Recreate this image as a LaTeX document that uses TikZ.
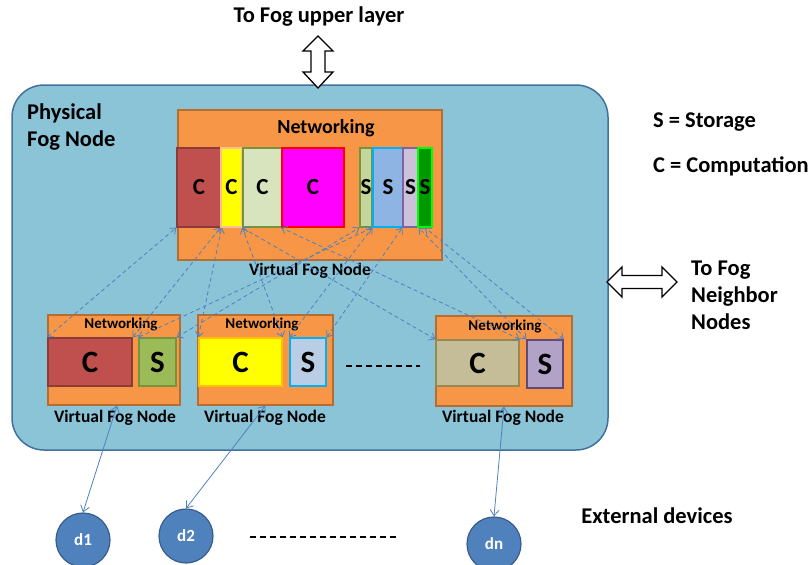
\documentclass[tikz,border=0pt]{standalone}
\usepackage{fontspec}
\setmainfont{Carlito}
\usetikzlibrary{arrows.meta,calc}
\definecolor{panel}{HTML}{8BC3D7}
\definecolor{panelline}{HTML}{41719C}
\definecolor{orng}{HTML}{F79646}
\definecolor{orngline}{HTML}{B66D31}
\definecolor{lnk}{HTML}{4F81BD}
\definecolor{dev}{HTML}{4F81BD}
\definecolor{devline}{HTML}{385D8A}
\definecolor{redfill}{HTML}{C0504D}
\definecolor{redline}{HTML}{8C3B39}
\definecolor{peach}{HTML}{FAC090}
\definecolor{palegreen}{HTML}{D7E4BD}
\definecolor{olive}{HTML}{77933C}
\definecolor{lightolive}{HTML}{C3D69B}
\definecolor{midblue}{HTML}{8EB4E3}
\definecolor{cyanline}{HTML}{00B0F0}
\definecolor{lilac}{HTML}{CCC1DA}
\definecolor{purpleline}{HTML}{8064A2}
\definecolor{darkgreen}{HTML}{009A00}
\definecolor{brightgreen}{HTML}{00FF00}
\definecolor{greenfill}{HTML}{9BBB59}
\definecolor{gold}{HTML}{FFC000}
\definecolor{paleblue}{HTML}{B9CDE5}
\definecolor{khaki}{HTML}{C4BD97}
\definecolor{khakiline}{HTML}{948A54}
\definecolor{violet2}{HTML}{B3A2C7}
\definecolor{violetline}{HTML}{5F497A}
\definecolor{pinkfill}{HTML}{FF00FF}
\definecolor{pureyellow}{HTML}{FFFF00}
\definecolor{purered}{HTML}{FF0000}
\tikzset{
  vfn/.style={draw=orngline, fill=orng, line width=1.2pt, inner sep=0pt},
  modbox/.style={line width=1.4pt, inner sep=0pt, font=\bfseries\fontsize{23}{23}\selectfont},
  lowmod/.style={line width=1.4pt, inner sep=0pt, font=\bfseries\fontsize{31}{31}\selectfont},
  lbl/.style={font=\bfseries\fontsize{22.5}{27}\selectfont, inner sep=0pt},
  vlbl/.style={font=\bfseries\fontsize{17.5}{18}\selectfont, inner sep=0pt},
  netlbl/.style={font=\bfseries\fontsize{15}{15}\selectfont, inner sep=0pt},
  dashlink/.style={draw=lnk, line width=0.8pt, dash pattern=on 4pt off 3pt, {Straight Barb[length=5pt,width=8pt]}-{Straight Barb[length=5pt,width=8pt]}},
  solidlink/.style={draw=lnk, line width=0.8pt, {Straight Barb[length=6pt,width=9pt]}-{Straight Barb[length=6pt,width=9pt]}},
  device/.style={circle, draw=devline, fill=dev, line width=1.2pt, minimum size=54pt, inner sep=0pt, text=white, font=\bfseries\fontsize{17}{17}\selectfont},
  hollow/.style={draw=black, fill=white, line width=1.3pt, line join=miter},
}
\begin{document}
\begin{tikzpicture}[x=1pt,y=-1pt]
\useasboundingbox (0,0) rectangle (809,565);
% physical fog node panel
\node[draw=panelline, fill=panel, line width=1.5pt, rounded corners=32pt, minimum width=596pt, minimum height=365pt, inner sep=0pt] (phys) at (310,267.5) {};
\node[lbl, align=left, anchor=north west] (physlbl) at (27,104) {Physical\\Fog Node};

% top virtual fog node
\node[vfn, minimum width=264pt, minimum height=150pt] (top) at (310,185) {};
\node[font=\bfseries\fontsize{20}{20}\selectfont, inner sep=0pt] (topnet) at (326,128) {Networking};
\node[modbox, fill=redfill, draw=redline, minimum width=44pt, minimum height=79pt] (c1) at (199,187.5) {C};
\node[modbox, fill=pureyellow, draw=peach, minimum width=21pt, minimum height=79pt] (c2) at (231.5,187.5) {C};
\node[modbox, fill=palegreen, draw=olive, minimum width=39pt, minimum height=79pt] (c3) at (262.5,187.5) {C};
\node[modbox, fill=pinkfill, draw=purered, minimum width=62pt, minimum height=79pt] (c4) at (313,187.5) {C};
\node[modbox, fill=lightolive, draw=olive, minimum width=12pt, minimum height=79pt] (s1) at (366,187.5) {S};
\node[modbox, fill=midblue, draw=cyanline, minimum width=30pt, minimum height=79pt] (s2) at (388,187.5) {S};
\node[modbox, fill=lilac, draw=purpleline, minimum width=15pt, minimum height=79pt] (s3) at (410.5,187.5) {S};
\node[modbox, fill=darkgreen, draw=brightgreen, minimum width=14pt, minimum height=79pt] (s4) at (425,187.5) {S};
\node[vlbl] (toplbl) at (310,271) {Virtual Fog Node};

% lower virtual fog nodes
\node[vfn, minimum width=132pt, minimum height=90pt] (v1) at (114,360) {};
\node[netlbl] (v1net) at (121,325) {Networking};
\node[lowmod, fill=redfill, draw=redline, minimum width=84pt, minimum height=48pt] (v1c) at (90,362) {C};
\node[lowmod, fill=greenfill, draw=olive, minimum width=37pt, minimum height=48pt] (v1s) at (157.5,362) {S};
\node[vlbl] (v1lbl) at (115,418) {Virtual Fog Node};

\node[vfn, minimum width=135pt, minimum height=90pt] (v2) at (265.5,360) {};
\node[netlbl] (v2net) at (262,325) {Networking};
\node[lowmod, fill=pureyellow, draw=gold, minimum width=83pt, minimum height=48pt] (v2c) at (240.5,362) {C};
\node[lowmod, fill=paleblue, draw=cyanline, minimum width=36pt, minimum height=48pt] (v2s) at (308,362) {S};
\node[vlbl] (v2lbl) at (265,418) {Virtual Fog Node};

\node[vfn, minimum width=136pt, minimum height=90pt] (v3) at (504,361) {};
\node[netlbl] (v3net) at (505,327) {Networking};
\node[lowmod, fill=khaki, draw=khakiline, minimum width=83pt, minimum height=46pt] (v3c) at (477.5,363) {C};
\node[lowmod, fill=violet2, draw=violetline, minimum width=36pt, minimum height=48pt] (v3s) at (545,364) {S};
\node[vlbl] (v3lbl) at (503,418) {Virtual Fog Node};

% dashes between virtual nodes
\coordinate (dA) at (346,366);
\coordinate (dB) at (420,366);
\draw[line width=1.3pt, dash pattern=on 6pt off 4pt] (dA) -- (dB);

% dashed links
\draw[dashlink] (v1c.north west) -- (c1.south west);
\draw[dashlink] (v1c.north east) -- (c2.south west);
\draw[dashlink] (v1s.north west) -- (s2.south west);
\draw[dashlink] (v1s.north east) -- (s1.south west);
\draw[dashlink] (v2c.north west) -- (c1.south east);
\draw[dashlink] (v2c.north east) -- (c3.south west);
\draw[dashlink] (v2s.north west) -- (s2.south west);
\draw[dashlink] (v2s.north east) -- (s3.south west);
\draw[dashlink] (v3c.north west) -- (c3.south west);
\draw[dashlink] (v3c.north east) -- (c4.south west);
\draw[dashlink] (v3s.north west) -- (s3.south east);
\draw[dashlink] (v3s.north east) -- (s4.south);

% external devices
\node[device] (d1) at (83,540) {d1};
\node[device] (d2) at (186,536) {d2};
\node[device] (dn) at (494,544) {dn};
\coordinate (dC) at (250,537);
\coordinate (dD) at (396,537);
\draw[line width=1.3pt, dash pattern=on 6pt off 4pt] (dC) -- (dD);
\draw[solidlink] ($(v1.south)+(3,0)$) -- (d1.north);
\draw[solidlink] (v2.south) -- (d2.north);
\draw[solidlink] (v3.south) -- (dn.north);
\node[lbl] (ext) at (657,516) {External devices};

% legend
\node[lbl, anchor=west] (legS) at (653,122) {S = Storage};
\node[lbl, anchor=west] (legC) at (653,166) {C = Computation};

% upper layer arrow
\node[lbl] (upper) at (319,17) {To Fog upper layer};
\draw[hollow] (318,36) -- (333,51) -- (325,51) -- (325,72) -- (333,72) -- (318,88) -- (303,72) -- (311,72) -- (311,51) -- (303,51) -- cycle;

% neighbor arrow
\node[lbl, align=left, anchor=north west] (neigh) at (691,261) {To Fog\\Neighbor\\Nodes};
\draw[hollow] (607,282) -- (622,267) -- (622,275.5) -- (662,275.5) -- (662,267) -- (677,282) -- (662,297) -- (662,288.5) -- (622,288.5) -- (622,297) -- cycle;
\end{tikzpicture}
\end{document}
